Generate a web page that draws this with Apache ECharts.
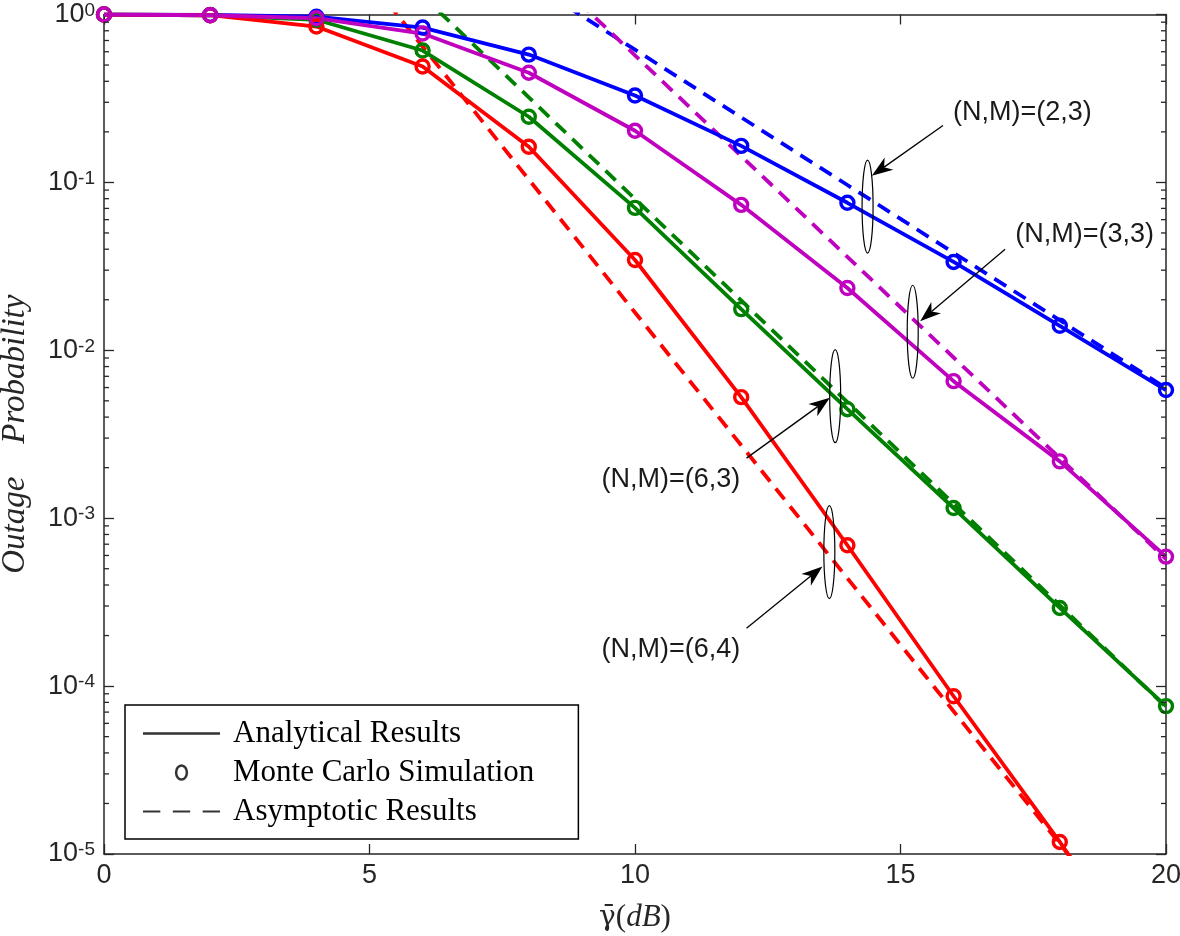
<!DOCTYPE html>
<html><head><meta charset="utf-8">
<script src="https://cdn.jsdelivr.net/npm/echarts@6/dist/echarts.min.js"></script>
<style>html,body{margin:0;padding:0;background:#fff}#c{width:1180px;height:936px}</style>
</head><body><div id="c"></div>
<script>
// ---- data ----
const snr = [0, 2, 4, 6, 8, 10, 12, 14, 16, 18, 20];
// analytical / Monte Carlo (markers)
const ana23 = [1, 0.995, 0.97, 0.836, 0.577, 0.329, 0.165, 0.0756, 0.0336, 0.0140, 0.0058];
const ana33 = [1, 0.99, 0.95, 0.77, 0.45, 0.203, 0.0735, 0.0235, 0.00655, 0.00218, 0.00059];
const ana63 = [1, 0.99, 0.93, 0.61, 0.246, 0.0705, 0.0176, 0.00446, 0.00115, 0.000292, 0.000076];
const ana64 = [1, 0.99, 0.848, 0.49, 0.163, 0.0345, 0.00526, 0.00069, 0.000087, 0.0000118, 0.0000014];
// asymptotic
const asy23 = [null, null, null, null, 1.56, 0.617, 0.244, 0.0965, 0.0381, 0.0151, 0.00596];
const asy33 = [null, null, null, null, 2.28, 0.571, 0.1435, 0.036, 0.00906, 0.00228, 0.000571];
const asy63 = [null, null, null, 1.29, 0.321, 0.0798, 0.0198, 0.00492, 0.00122, 0.000303, 0.000075];
const asy64 = [null, null, 4.0, 0.645, 0.104, 0.0168, 0.00272, 0.000439, 0.0000708, 0.0000115, 0.00000186];
const xTicks = [0, 5, 10, 15, 20];
const legendNames = ['Analytical Results', 'Monte Carlo Simulation', 'Asymptotic Results'];
// annotations (data coordinates)
const annoLabels = [
  {text: '(N,M)=(2,3)', x: 15.99, y: 0.261},
  {text: '(N,M)=(3,3)', x: 17.16, y: 0.0491},
  {text: '(N,M)=(6,3)', x: 9.37, y: 0.0017},
  {text: '(N,M)=(6,4)', x: 9.37, y: 0.000164}
];
const annoEllipses = [
  {x: 14.38, y: 0.0718}, {x: 15.23, y: 0.0129}, {x: 13.77, y: 0.00533}, {x: 13.66, y: 0.000628}
];
const annoArrows = [
  {from: [15.8, 0.218], to: [14.46, 0.1095]},
  {from: [16.97, 0.04], to: [15.37, 0.0149]},
  {from: [12.1, 0.00228], to: [13.67, 0.00521]},
  {from: [12.1, 0.000221], to: [13.53, 0.000515]}
];

const AX = '#262626';
const colors = {b: '#0000FF', m: '#BF00BF', g: '#008000', r: '#FF0000'};
const pairs = arr => snr.map((x, i) => [x, arr[i]]).filter(p => p[1] !== null);

function anaSeries(arr, c) {
  return {type: 'line', data: pairs(arr), clip: true, symbol: 'circle', symbolSize: 13, showSymbol: true,
    lineStyle: {color: c, width: 3.8}, itemStyle: {color: 'rgba(0,0,0,0)', borderColor: c, borderWidth: 3.4},
    emphasis: {disabled: true}, silent: true, z: 3};
}
function asySeries(arr, c) {
  return {type: 'line', data: pairs(arr), clip: true, symbol: 'none', showSymbol: false,
    lineStyle: {color: c, width: 3.8, type: [14, 9]}, itemStyle: {color: c},
    emphasis: {disabled: true}, silent: true, z: 2};
}

const axisCommon = {axisLine: {show: true, onZero: false, lineStyle: {color: AX, width: 1.5}},
  axisTick: {show: true, inside: true, length: 10, lineStyle: {color: AX, width: 1.3}}, splitLine: {show: false}};

const option = {
  backgroundColor: '#fff',
  animation: false,
  grid: {left: 104, right: 14, top: 14.5, bottom: 82, containLabel: false, outerBoundsMode: 'none'},
  xAxis: [
    Object.assign({type: 'value', min: 0, max: 20, interval: 5, position: 'bottom',
      axisLabel: {fontFamily: 'Liberation Sans', fontSize: 27, color: AX, margin: 8},
      name: '{g|γ̄}{p|(}{i|dB}{p|)}', nameLocation: 'middle', nameGap: 48,
      nameTextStyle: {rich: {
        g: {fontFamily: 'DejaVu Serif', fontSize: 28, color: AX},
        p: {fontFamily: 'Liberation Serif', fontSize: 31, color: AX},
        i: {fontFamily: 'Liberation Serif', fontStyle: 'italic', fontSize: 31, color: AX}}}
    }, axisCommon),
    Object.assign({type: 'value', min: 0, max: 20, interval: 5, position: 'top', axisLabel: {show: false}}, axisCommon)
  ],
  yAxis: [
    Object.assign({type: 'log', logBase: 10, min: 1e-5, max: 1, position: 'left',
      axisLabel: {margin: 9, formatter: v => '{b|10}{s|' + Math.round(Math.log10(v)) + '}',
        rich: {b: {fontFamily: 'Liberation Sans', fontSize: 27, color: AX, lineHeight: 27, verticalAlign: 'bottom'},
               s: {fontFamily: 'Liberation Sans', fontSize: 19, color: AX, lineHeight: 19, verticalAlign: 'top'}}},
      name: 'Outage    Probability', nameLocation: 'middle', nameGap: 72, nameRotate: 90,
      nameTextStyle: {fontFamily: 'Liberation Serif', fontStyle: 'italic', fontSize: 33, color: AX}
    }, axisCommon),
    Object.assign({type: 'log', logBase: 10, min: 1e-5, max: 1, position: 'right', axisLabel: {show: false}}, axisCommon)
  ],
  legend: {
    orient: 'vertical', left: 125, top: 705,
    itemWidth: 77, itemHeight: 14, itemGap: 8,
    padding: [13, 44, 12, 18],
    borderColor: '#000', borderWidth: 1.5, backgroundColor: '#fff', borderRadius: 0,
    selectedMode: false,
    textStyle: {fontFamily: 'Liberation Serif', fontSize: 31, color: '#000', lineHeight: 30, padding: [0, 0, 0, 8]},
    data: [
      {name: legendNames[0], icon: 'path://M0,0h77v2.3h-77z', itemStyle: {color: '#000'}},
      {name: legendNames[1], icon: 'path://M0,6.5A5,6.5 0 1 1 10,6.5A5,6.5 0 1 1 0,6.5Z',
        itemStyle: {color: 'rgba(0,0,0,0)', borderColor: '#000', borderWidth: 2.5}},
      {name: legendNames[2], icon: 'path://M0,0h18v2.3h-18z M31,0h18v2.3h-18z M62,0h18v2.3h-18z', itemStyle: {color: '#000'}}
    ]
  },
  series: [
    asySeries(asy23, colors.b), asySeries(asy33, colors.m), asySeries(asy63, colors.g), asySeries(asy64, colors.r),
    anaSeries(ana23, colors.b), anaSeries(ana63, colors.g), anaSeries(ana64, colors.r), anaSeries(ana33, colors.m),
    {name: legendNames[0], type: 'scatter', data: [], itemStyle: {color: '#000'}},
    {name: legendNames[1], type: 'scatter', data: [], itemStyle: {color: '#000'}},
    {name: legendNames[2], type: 'scatter', data: [], itemStyle: {color: '#000'}}
  ]
};

const chart = echarts.init(document.getElementById('c'));
chart.setOption(option);

// ---- minor log ticks and annotations, positioned through the axes ----
const P = (x, y) => chart.convertToPixel({gridIndex: 0}, [x, y]);
const xl = chart.convertToPixel({xAxisIndex: 0}, 0);
const xr = chart.convertToPixel({xAxisIndex: 0}, 20);
const g = [];
for (let k = -5; k < 0; k++) {
  for (let m = 2; m <= 9; m++) {
    const yy = chart.convertToPixel({yAxisIndex: 0}, m * Math.pow(10, k));
    g.push({type: 'line', shape: {x1: xl, y1: yy, x2: xl + 5, y2: yy}, style: {stroke: AX, lineWidth: 1.3}, z: 5, silent: true});
    g.push({type: 'line', shape: {x1: xr, y1: yy, x2: xr - 5, y2: yy}, style: {stroke: AX, lineWidth: 1.3}, z: 5, silent: true});
  }
}
annoEllipses.forEach(e => {
  const p = P(e.x, e.y);
  g.push({type: 'ellipse', shape: {cx: p[0], cy: p[1], rx: 5.5, ry: 46.5}, style: {fill: 'none', stroke: '#000', lineWidth: 1.2}, z: 10, silent: true});
});
annoArrows.forEach(a => {
  const f = P(a.from[0], a.from[1]), t = P(a.to[0], a.to[1]);
  const dx = t[0] - f[0], dy = t[1] - f[1], len = Math.hypot(dx, dy);
  const ux = dx / len, uy = dy / len, nx = -uy, ny = ux;
  const L = 21, W = 7.5, N = 6;
  const bx = t[0] - L * ux, by = t[1] - L * uy;
  const cx = t[0] - (L - N) * ux, cy = t[1] - (L - N) * uy;
  g.push({type: 'line', shape: {x1: f[0], y1: f[1], x2: cx, y2: cy}, style: {stroke: '#000', lineWidth: 1.3}, z: 10, silent: true});
  g.push({type: 'polygon', shape: {points: [[t[0], t[1]], [bx + W * nx, by + W * ny], [cx, cy], [bx - W * nx, by - W * ny]]},
    style: {fill: '#000'}, z: 10, silent: true});
});
annoLabels.forEach(l => {
  const p = P(l.x, l.y);
  g.push({type: 'text', x: p[0], y: p[1], style: {text: l.text, fontFamily: 'Liberation Sans', fontSize: 27, fill: '#1a1a1a',
    align: 'left', verticalAlign: 'middle'}, z: 10, silent: true});
});
chart.setOption({graphic: g});
</script>
</body></html>
